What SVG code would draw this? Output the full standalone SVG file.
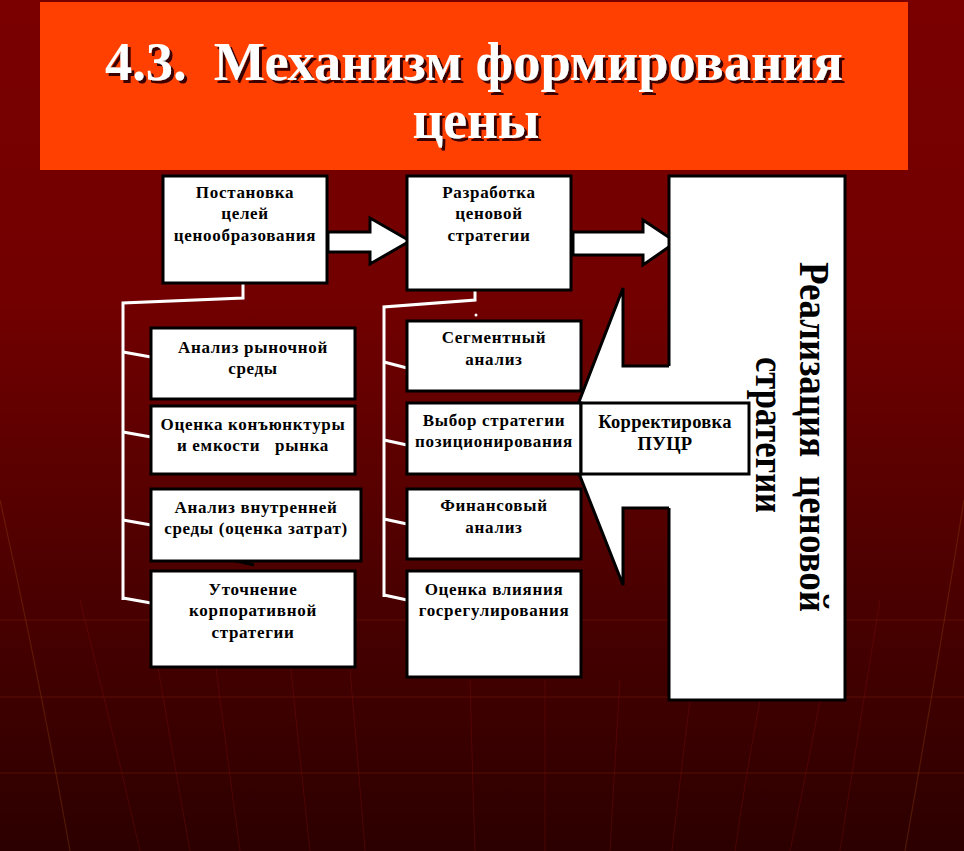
<svg xmlns="http://www.w3.org/2000/svg" width="964" height="851" viewBox="0 0 964 851">
<defs>
<linearGradient id="bg" x1="0" y1="0" x2="0" y2="1">
<stop offset="0" stop-color="#7a0000"/>
<stop offset="0.35" stop-color="#720000"/>
<stop offset="0.7" stop-color="#4a0000"/>
<stop offset="1" stop-color="#2c0000"/>
</linearGradient>
<filter id="tshadow" x="-5%" y="-20%" width="110%" height="150%">
<feDropShadow dx="3" dy="3" stdDeviation="0.6" flood-color="#3a0000" flood-opacity="1"/>
</filter>
<style>
.box{fill:#ffffff;stroke:#000000;stroke-width:3}
.t{font-family:"Liberation Serif","Times New Roman",serif;font-weight:bold;font-size:17px;letter-spacing:0.7px;fill:#000000;text-anchor:middle}
.tk{font-family:"Liberation Serif","Times New Roman",serif;font-weight:bold;font-size:18.5px;letter-spacing:0.3px;fill:#000000;text-anchor:middle}
.conn{fill:none;stroke:#ffffff;stroke-width:3}
.grid{fill:none;stroke:#a03010;stroke-width:1;opacity:0.3}
.vgrid{fill:none;stroke:#901010;stroke-width:1;opacity:0.3}
.title{font-family:"Liberation Serif","Times New Roman",serif;font-weight:bold;font-size:54px;text-anchor:middle;fill:#ffffff}
.big{font-family:"Liberation Serif","Times New Roman",serif;font-weight:bold;font-size:42px;fill:#000000;text-anchor:middle}
</style>
</defs>
<rect x="0" y="0" width="964" height="851" fill="url(#bg)"/>
<g id="background-lines">
<path class="grid" d="M0 620 H964 M0 697 H964 M0 773 H964"/>
<path class="vgrid" d="M80 600 Q110 720 140 851 M150 620 Q170 740 190 851 M210 620 Q225 740 240 851 M290 660 Q300 760 310 851 M350 670 Q358 760 365 851 M470 680 Q472 760 475 851 M545 680 Q545 760 545 851 M620 680 Q615 760 610 851 M690 700 Q680 780 672 851 M760 700 Q745 780 735 851 M820 700 Q805 780 790 851 M880 600 Q860 720 840 851"/>
<path d="M0 500 Q40 680 70 851 M964 500 Q935 680 905 851" fill="none" stroke="#a05010" stroke-width="1.2" opacity="0.3"/>
</g>
<g id="title">
<rect x="40" y="2" width="868" height="168" fill="#ff4000"/>
<g filter="url(#tshadow)">
<text class="title" x="474" y="80" textLength="738" lengthAdjust="spacingAndGlyphs" xml:space="preserve">4.3.  Механизм формирования</text>
<text class="title" x="476" y="138" textLength="127" lengthAdjust="spacingAndGlyphs">цены</text>
</g>
</g>
<g id="connectors">
<polyline class="conn" points="243,283 243,298 123,303 123,600"/>
<line class="conn" x1="123" y1="352" x2="151" y2="357"/>
<line class="conn" x1="123" y1="432" x2="151" y2="437"/>
<line class="conn" x1="123" y1="520" x2="151" y2="525"/>
<line class="conn" x1="123" y1="598" x2="151" y2="603"/>
<polyline class="conn" points="475,290 475,300 384,307 384,597"/>
<line class="conn" x1="384" y1="362" x2="407" y2="368"/>
<line class="conn" x1="384" y1="440" x2="407" y2="445"/>
<line class="conn" x1="384" y1="519" x2="407" y2="524"/>
<line class="conn" x1="384" y1="595" x2="407" y2="600"/>
<circle cx="476" cy="315" r="1.5" fill="#ffffff"/>
<line x1="228" y1="559" x2="254" y2="565" stroke="#000000" stroke-width="3"/>
<polygon points="328,232 370,232 370,218 410,241 370,264 370,252 328,252" fill="#ffffff" stroke="#000000" stroke-width="3"/>
<polygon points="573,232 643,232 643,220 676,242 643,265 643,255 573,255" fill="#ffffff" stroke="#000000" stroke-width="3"/>
</g>
<g id="node-realization">
<rect class="box" x="669" y="176" width="176" height="524"/>
<text class="big" transform="translate(800,437) rotate(90)" textLength="350" lengthAdjust="spacingAndGlyphs" xml:space="preserve">Реализация  ценовой</text>
<text class="big" transform="translate(756,435) rotate(90)" textLength="156" lengthAdjust="spacingAndGlyphs">стратегии</text>
</g>
<g id="feedback-arrow">
<polygon points="672,366 623,366 623,288 565,438 623,585 623,508 672,508" fill="#ffffff"/>
<polyline points="669,366 623,366 623,288 565,438 623,585 623,508 669,508" fill="none" stroke="#000000" stroke-width="3"/>
</g>
<g id="node-goals">
<rect class="box" x="163" y="176" width="164" height="107"/>
<text class="t" x="245" y="198">Постановка</text>
<text class="t" x="245" y="219">целей</text>
<text class="t" x="245" y="241">ценообразования</text>
</g>
<g id="node-strategy">
<rect class="box" x="407" y="176" width="164" height="114"/>
<text class="t" x="489" y="198">Разработка</text>
<text class="t" x="489" y="219">ценовой</text>
<text class="t" x="489" y="241">стратегии</text>
</g>
<g id="node-market">
<rect class="box" x="151" y="328" width="204" height="71"/>
<text class="t" x="253" y="353">Анализ рыночной</text>
<text class="t" x="253" y="374">среды</text>
</g>
<g id="node-conjuncture">
<rect class="box" x="151" y="406" width="204" height="68"/>
<text class="t" x="253" y="430">Оценка конъюнктуры</text>
<text class="t" x="253" y="451" xml:space="preserve">и емкости   рынка</text>
</g>
<g id="node-internal">
<rect class="box" x="151" y="489" width="210" height="72"/>
<text class="t" x="256" y="513">Анализ внутренней</text>
<text class="t" x="256" y="534">среды (оценка затрат)</text>
</g>
<g id="node-corporate">
<rect class="box" x="151" y="571" width="204" height="96"/>
<text class="t" x="253" y="595">Уточнение</text>
<text class="t" x="253" y="616">корпоративной</text>
<text class="t" x="253" y="638">стратегии</text>
</g>
<g id="node-segment">
<rect class="box" x="407" y="321" width="174" height="70"/>
<text class="t" x="494" y="343">Сегментный</text>
<text class="t" x="494" y="365">анализ</text>
</g>
<g id="node-positioning">
<rect class="box" x="407" y="403" width="174" height="71"/>
<text class="t" x="494" y="426">Выбор стратегии</text>
<text class="t" x="494" y="447">позиционирования</text>
</g>
<g id="node-finance">
<rect class="box" x="407" y="489" width="174" height="70"/>
<text class="t" x="494" y="511">Финансовый</text>
<text class="t" x="494" y="533">анализ</text>
</g>
<g id="node-regulation">
<rect class="box" x="407" y="571" width="174" height="106"/>
<text class="t" x="494" y="595">Оценка влияния</text>
<text class="t" x="494" y="616">госрегулирования</text>
</g>
<g id="node-correction">
<rect class="box" x="581" y="403" width="168" height="71"/>
<text class="tk" x="665" y="428">Корректировка</text>
<text class="tk" x="665" y="450">ПУЦР</text>
</g>
</svg>
